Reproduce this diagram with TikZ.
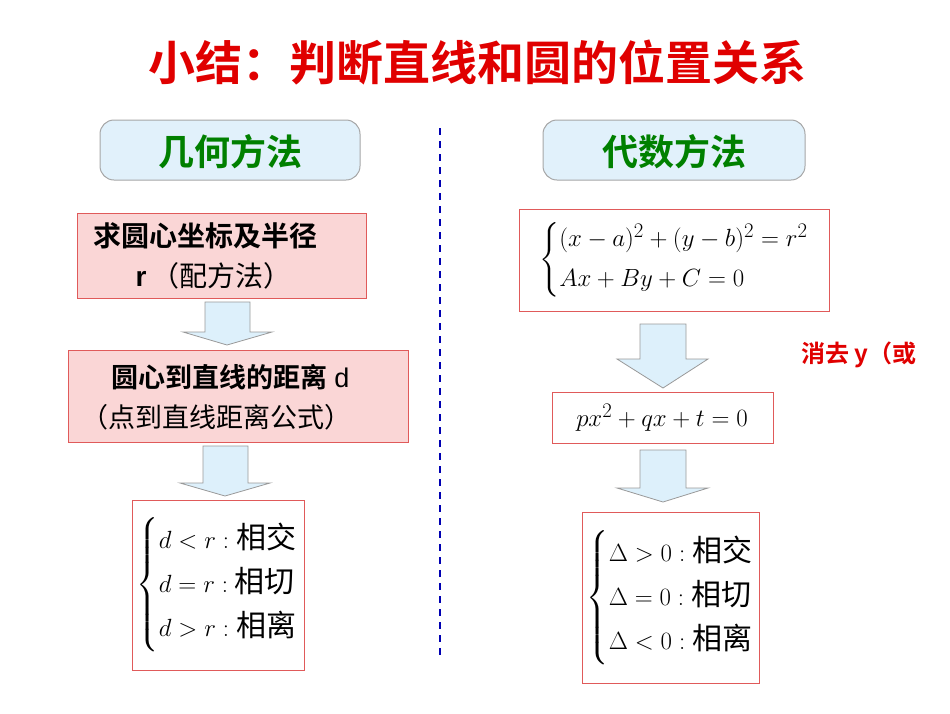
\documentclass[tikz,border=0pt]{standalone}
\usepackage{amsmath}
\usepackage{fontspec}
\setmainfont{Liberation Serif}
\newfontfamily\cjk{Noto Sans CJK SC}
\newfontfamily\cjkb{Noto Sans CJK SC Bold}
\newfontfamily\lsans{Liberation Sans}
\definecolor{titlered}{HTML}{E00000}
\definecolor{hdgreen}{HTML}{008000}
\definecolor{hdfill}{HTML}{E1F1FB}
\definecolor{pinkfill}{HTML}{FAD6D6}
\definecolor{pinkline}{HTML}{E05A5A}
\definecolor{arrfill}{HTML}{DDF0FB}
\tikzset{
  hdbox/.style={draw=gray!70, fill=hdfill, rounded corners=14pt, line width=1pt},
  pinkbox/.style={draw=pinkline, fill=pinkfill, line width=1pt},
  mathbox/.style={draw=pinkline, fill=white, line width=1pt},
  blk/.style={draw=gray!80, fill=arrfill, line width=0.8pt},
}
\begin{document}
\begin{tikzpicture}[x=1pt,y=-1pt]
\useasboundingbox (0,0) rectangle (950,713);
\node[font=\cjkb\fontsize{47}{50}\selectfont, text=titlered] (title) at (477,62) {小结：判断直线和圆的位置关系};
\draw[blue!70!black, line width=1.5pt, dash pattern=on 7pt off 6pt] (440,128) -- (440,658);
\draw[hdbox] (100,120) rectangle (360,180);
\node[font=\cjkb\fontsize{36}{40}\selectfont, text=hdgreen] (hl) at (230,152) {几何方法};
\draw[hdbox] (543,120) rectangle (805,180);
\node[font=\cjkb\fontsize{36}{40}\selectfont, text=hdgreen] (hr) at (674,152) {代数方法};
% left
\draw[pinkbox] (77,213) rectangle (366,298);
\node[align=left, anchor=west, font=\fontsize{28}{40}\selectfont] (l1) at (90,256) {{\cjkb 求圆心坐标及半径}\\\hspace*{42pt}{\lsans\bfseries r}\,{\cjk （配方法）}};
\draw[blk] (205,302) -- (250,302) -- (250,332) -- (272,332) -- (227,345) -- (183,332) -- (205,332) -- cycle;
\draw[pinkbox] (68,350) rectangle (408,442);
\node[align=left, anchor=west, font=\fontsize{27}{40}\selectfont] (l2) at (78,397) {\hspace*{30pt}{\cjkb 圆心到直线的距离} {\lsans d}\\{\cjk （点到直线距离公式）}};
\draw[blk] (203,446) -- (248,446) -- (248,483) -- (270,483) -- (225,496) -- (180,483) -- (203,483) -- cycle;
\draw[mathbox] (132,500) rectangle (304,670);
\node[font=\fontsize{30}{36}\selectfont] (l3) at (217,585) {$\left\{\begin{array}{@{}l@{}}
 d<r:\text{\cjk 相交}\\[8pt] d=r:\text{\cjk 相切}\\[8pt] d>r:\text{\cjk 相离}\end{array}\right.$};
% right
\draw[mathbox] (519,209) rectangle (829,311);
\node[font=\fontsize{29}{34}\selectfont] (r1) at (674,260) {$\left\{\begin{array}{@{}l@{}}
 (x-a)^2+(y-b)^2=r^2\\[6pt] Ax+By+C=0\end{array}\right.$};
\draw[blk] (640,324) -- (686,324) -- (686,359) -- (708,359) -- (663,388) -- (617,359) -- (640,359) -- cycle;
\node[anchor=west, font=\cjkb\fontsize{24}{28}\selectfont, text=titlered] (elim) at (798,355) {消去 y（或};
\draw[mathbox] (552,392) rectangle (773,443);
\node[font=\fontsize{30}{34}\selectfont] (r2) at (662,418) {$px^2+qx+t=0$};
\draw[blk] (640,450) -- (686,450) -- (686,488) -- (708,488) -- (663,502) -- (617,488) -- (640,488) -- cycle;
\draw[mathbox] (582,512) rectangle (759,683);
\node[font=\fontsize{30}{36}\selectfont] (r3) at (670,598) {$\left\{\begin{array}{@{}l@{}}
 \Delta>0:\text{\cjk 相交}\\[8pt] \Delta=0:\text{\cjk 相切}\\[8pt] \Delta<0:\text{\cjk 相离}\end{array}\right.$};
\end{tikzpicture}
\end{document}
